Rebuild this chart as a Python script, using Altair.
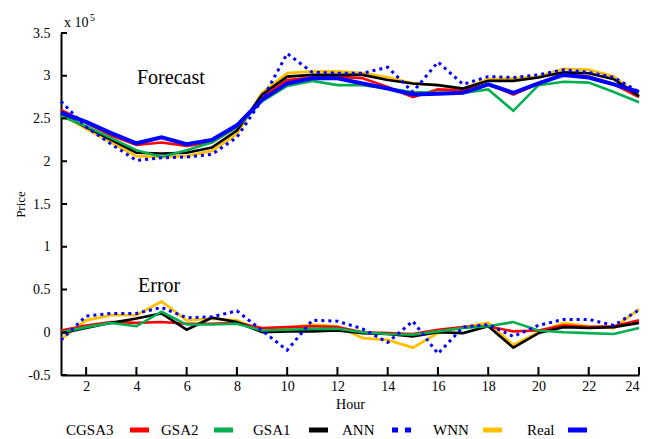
import altair as alt
import pandas as pd

# ---------------- data (values in units of 10^5) ----------------
hours = list(range(1, 25))
series_names = ["CGSA3", "GSA2", "GSA1", "ANN", "WNN", "Real"]

fc_cgsa3 = [2.60, 2.45, 2.30, 2.19, 2.22, 2.18, 2.22, 2.40, 2.75, 2.95, 2.98, 2.99,
            2.97, 2.87, 2.75, 2.84, 2.83, 2.90, 2.78, 2.91, 3.02, 2.99, 2.90, 2.75]
fc_gsa2 = [2.53, 2.41, 2.27, 2.13, 2.05, 2.13, 2.22, 2.40, 2.70, 2.88, 2.94, 2.89,
           2.89, 2.85, 2.81, 2.80, 2.80, 2.84, 2.59, 2.89, 2.93, 2.92, 2.81, 2.69]
fc_gsa1 = [2.55, 2.40, 2.25, 2.10, 2.09, 2.10, 2.16, 2.36, 2.78, 2.99, 3.01, 3.01,
           3.01, 2.95, 2.91, 2.89, 2.85, 2.94, 2.94, 2.98, 3.04, 3.03, 2.96, 2.76]
fc_ann = [2.70, 2.40, 2.20, 2.01, 2.04, 2.05, 2.08, 2.28, 2.72, 3.26, 3.04, 3.03,
          3.03, 3.10, 2.81, 3.16, 2.90, 2.99, 2.98, 3.01, 3.07, 3.04, 2.98, 2.81]
fc_wnn = [2.55, 2.38, 2.22, 2.06, 2.05, 2.06, 2.12, 2.32, 2.80, 3.03, 3.05, 3.05,
          3.03, 2.98, 2.91, 2.89, 2.85, 2.96, 2.97, 2.99, 3.08, 3.07, 2.99, 2.77]
fc_real = [2.57, 2.46, 2.33, 2.21, 2.28, 2.20, 2.25, 2.42, 2.72, 2.91, 2.97, 2.97,
           2.91, 2.85, 2.78, 2.79, 2.80, 2.90, 2.80, 2.91, 3.01, 2.98, 2.90, 2.81]

err_cgsa3 = [0.02, 0.08, 0.12, 0.11, 0.12, 0.10, 0.10, 0.11, 0.05, 0.06, 0.07, 0.06,
             0.00, -0.01, -0.02, 0.03, 0.06, 0.07, 0.01, 0.02, 0.08, 0.06, 0.07, 0.14]
err_gsa2 = [0.00, 0.06, 0.11, 0.07, 0.24, 0.09, 0.09, 0.10, 0.02, 0.03, 0.04, 0.04,
            0.00, -0.02, -0.03, 0.01, 0.05, 0.07, 0.12, 0.02, 0.00, -0.01, -0.02, 0.05]
err_gsa1 = [-0.01, 0.05, 0.11, 0.16, 0.22, 0.03, 0.17, 0.12, 0.00, 0.01, 0.01, 0.02,
            -0.01, -0.02, -0.05, 0.00, -0.01, 0.07, -0.18, -0.01, 0.06, 0.05, 0.06, 0.11]
err_ann = [-0.09, 0.19, 0.22, 0.22, 0.29, 0.17, 0.18, 0.25, 0.02, -0.21, 0.14, 0.13,
           0.04, -0.12, 0.13, -0.25, 0.06, 0.09, -0.05, 0.08, 0.15, 0.15, 0.08, 0.26]
err_wnn = [-0.08, 0.14, 0.20, 0.20, 0.36, 0.14, 0.16, 0.14, 0.01, 0.05, 0.09, 0.07,
           -0.07, -0.09, -0.18, -0.01, 0.06, 0.11, -0.15, 0.00, 0.11, 0.07, 0.05, 0.27]

x_ticks = list(range(2, 25, 2))
y_ticks = [-0.5, 0, 0.5, 1, 1.5, 2, 2.5, 3, 3.5]

forecast = {"CGSA3": fc_cgsa3, "GSA2": fc_gsa2, "GSA1": fc_gsa1,
            "ANN": fc_ann, "WNN": fc_wnn, "Real": fc_real}
error = {"CGSA3": err_cgsa3, "GSA2": err_gsa2, "GSA1": err_gsa1,
         "ANN": err_ann, "WNN": err_wnn}

rows = []
for name, vals in forecast.items():
    for h, v in zip(hours, vals):
        rows.append({"hour": h, "value": v, "series": name, "panel": "Forecast"})
for name, vals in error.items():
    for h, v in zip(hours, vals):
        rows.append({"hour": h, "value": v, "series": name, "panel": "Error"})
df = pd.DataFrame(rows)

# ---------------- styles / layout ----------------
FONT = "Liberation Serif"
W, H = 578, 342
style = {
    "CGSA3": {"color": "#FF0000", "strokeWidth": 2.6},
    "GSA2": {"color": "#00B050", "strokeWidth": 2.6},
    "GSA1": {"color": "#000000", "strokeWidth": 2.6},
    "ANN": {"color": "#0000FF", "strokeWidth": 3, "strokeDash": [3, 4]},
    "WNN": {"color": "#FFC000", "strokeWidth": 2.8},
    "Real": {"color": "#0000FF", "strokeWidth": 4},
}
draw_order = ["WNN", "CGSA3", "GSA1", "GSA2", "Real", "ANN"]

x_enc = alt.X("hour:Q", scale=alt.Scale(domain=[1, 24], nice=False, zero=False),
              axis=alt.Axis(values=x_ticks, title="Hour", grid=False, ticks=False,
                            tickSize=0, labelPadding=4, labelFontSize=14,
                            titleFontSize=14, titleFontWeight="normal",
                            titlePadding=4, labelFont=FONT, titleFont=FONT,
                            domainColor="black", domainWidth=2, labelColor="black",
                            titleColor="black"))
y_enc = alt.Y("value:Q", scale=alt.Scale(domain=[-0.5, 3.5], nice=False, zero=False),
              axis=alt.Axis(values=y_ticks, title="Price", grid=False, ticks=False,
                            tickSize=0, labelPadding=11, labelFontSize=14,
                            labelExpr="'' + datum.value",
                            titleFontSize=13, titleFontWeight="normal",
                            titleX=-41, titleBaseline="middle",
                            labelFont=FONT, titleFont=FONT,
                            domainColor="black", domainWidth=2, labelColor="black",
                            titleColor="black"))

layers = []
for name in draw_order:
    st = style[name]
    kw = dict(color=st["color"], strokeWidth=st["strokeWidth"], strokeCap="butt",
              strokeJoin="miter")
    if "strokeDash" in st:
        kw["strokeDash"] = st["strokeDash"]
    layers.append(
        alt.Chart(df).transform_filter(alt.datum.series == name)
        .mark_line(**kw).encode(x=x_enc, y=y_enc, detail="panel:N")
    )

# inward ticks
ytick_df = pd.DataFrame({"value": y_ticks})
xtick_df = pd.DataFrame({"hour": x_ticks})
layers.append(alt.Chart(ytick_df).mark_rule(color="black", strokeWidth=2)
              .encode(y=alt.Y("value:Q"), x=alt.value(0), x2=alt.value(6)))
layers.append(alt.Chart(xtick_df).mark_rule(color="black", strokeWidth=2)
              .encode(x=alt.X("hour:Q"), y=alt.value(H), y2=alt.value(H - 8)))

# annotations
def label(text, x, y, size, align="left", baseline="middle"):
    return alt.Chart(pd.DataFrame({"t": [text]})).mark_text(
        font=FONT, fontSize=size, align=align, baseline=baseline, color="black"
    ).encode(text="t:N", x=alt.value(x), y=alt.value(y))

layers.append(label("Forecast", 76, 45, 20))
layers.append(label("Error", 77, 253, 20))
layers.append(label("x 10", 3, -6, 14, baseline="alphabetic"))
layers.append(label("5", 29, -12, 10, baseline="alphabetic"))

# custom legend (label followed by swatch)
legend_label_x = [5, 100, 192, 281, 372, 466]
legend_swatch_x = [69, 153, 248, 331, 422, 507]
LEG_Y = 397
for name, lx, sx in zip(series_names, legend_label_x, legend_swatch_x):
    st = style[name]
    layers.append(label(name, lx, LEG_Y, 15))
    kw = dict(color=st["color"], strokeWidth=5, strokeCap="butt")
    if name == "ANN":
        kw["strokeDash"] = [6, 7]
    layers.append(
        alt.Chart(pd.DataFrame({"s": [name]})).mark_rule(**kw)
        .encode(x=alt.value(sx), x2=alt.value(sx + 19), y=alt.value(LEG_Y))
    )

chart = alt.layer(*layers).properties(
    width=W, height=H,
    padding={"left": 61, "top": 33, "right": 23, "bottom": 64},
    autosize=alt.AutoSizeParams(type="none"),
    background="white",
).configure_view(stroke=None)

chart.save("out.html", embed_options={"renderer": "svg", "actions": False})
